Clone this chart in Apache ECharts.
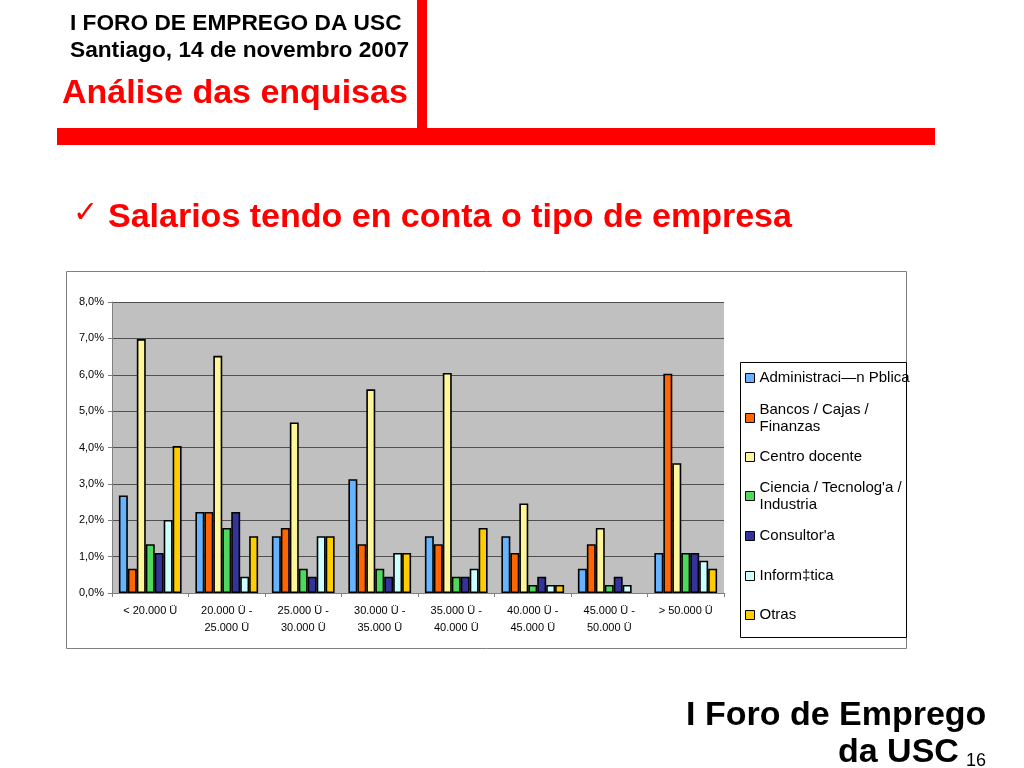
<!DOCTYPE html>
<html>
<head>
<meta charset="utf-8">
<script src="https://cdn.jsdelivr.net/npm/echarts@6/dist/echarts.min.js"></script>
<style>
html,body{margin:0;padding:0;background:#fff;}
#chart{width:1024px;height:768px;}
</style>
</head>
<body>
<div id="chart"></div>
<script>
// ---- data ----
var categories = ['< 20.000 Ü', '20.000 Ü -\n25.000 Ü', '25.000 Ü -\n30.000 Ü', '30.000 Ü -\n35.000 Ü',
  '35.000 Ü -\n40.000 Ü', '40.000 Ü -\n45.000 Ü', '45.000 Ü -\n50.000 Ü', '> 50.000 Ü'];
var seriesNames = ['Administraci—n Pblica', 'Bancos / Cajas / Finanzas', 'Centro docente',
  'Ciencia / Tecnolog\'a / Industria', 'Consultor\'a', 'Inform‡tica', 'Otras'];
var legendLabels = ['Administraci—n Pblica', 'Bancos / Cajas /\nFinanzas', 'Centro docente',
  'Ciencia / Tecnolog\'a /\nIndustria', 'Consultor\'a', 'Inform‡tica', 'Otras'];
var administracion = [2.68, 2.23, 1.56, 3.13, 1.56, 1.56, 0.67, 1.10];
var bancos         = [0.67, 2.23, 1.79, 1.34, 1.34, 1.10, 1.34, 6.03];
var centroDocente  = [6.98, 6.52, 4.69, 5.60, 6.05, 2.46, 1.79, 3.57];
var ciencia        = [1.34, 1.79, 0.67, 0.67, 0.45, 0.22, 0.22, 1.10];
var consultoria    = [1.10, 2.23, 0.45, 0.45, 0.45, 0.45, 0.45, 1.10];
var informatica    = [2.01, 0.45, 1.56, 1.10, 0.67, 0.22, 0.22, 0.89];
var otras          = [4.04, 1.56, 1.56, 1.10, 1.79, 0.22, 0,    0.67];
var yTicks = [0, 1, 2, 3, 4, 5, 6, 7, 8];

var seriesValues = [administracion, bancos, centroDocente, ciencia, consultoria, informatica, otras];
var seriesColors = ['#66B3FF', '#FF6600', '#FFF599', '#4CD95C', '#333399', '#CCFFFF', '#FFCC00'];

// legend marker centres (px)
var legendY = [373, 413, 452, 491, 531, 571, 610];

var FONT = '"Liberation Sans", Arial, sans-serif';

var series = seriesNames.map(function (n, i) {
  return {
    name: n, type: 'bar',
    // a zero value is drawn as no bar at all
    data: seriesValues[i].map(function (v) { return v === 0 ? null : v; }),
    barGap: '0%', barCategoryGap: '18%',
    itemStyle: { color: seriesColors[i], borderColor: '#000', borderWidth: 1.6 },
    emphasis: { disabled: true }
  };
});

var legends = seriesNames.map(function (n, i) {
  var two = legendLabels[i].indexOf('\n') >= 0;
  return {
    left: 740,
    top: two ? legendY[i] - 25.5 : legendY[i] - 8.5,
    orient: 'vertical',
    selectedMode: false,
    icon: 'rect',
    itemWidth: 9, itemHeight: 9,
    itemStyle: { borderColor: '#000', borderWidth: 1 },
    data: [n],
    formatter: function () { return legendLabels[i]; },
    textStyle: {
      fontFamily: FONT, fontSize: 15, color: '#000', lineHeight: 17,
      padding: two ? [17, 0, 0, 0] : 0
    }
  };
});

var chart = echarts.init(document.getElementById('chart'), null, { renderer: 'canvas' });
chart.setOption({
  backgroundColor: '#fff',
  animation: false,
  legend: legends,
  grid: {
    left: 112, top: 302, width: 612, height: 291,
    show: true, backgroundColor: '#C0C0C0', borderWidth: 0
  },
  xAxis: {
    type: 'category', data: categories,
    axisLine: { lineStyle: { color: '#808080', width: 1 } },
    axisTick: { show: true, length: 4, lineStyle: { color: '#808080' } },
    axisLabel: { interval: 0, fontFamily: FONT, fontSize: 11, color: '#000', lineHeight: 17, margin: 9 }
  },
  yAxis: {
    type: 'value', min: 0, max: 8, interval: 1,
    axisLine: { show: true, lineStyle: { color: '#808080' } },
    axisTick: { show: true, length: 4, lineStyle: { color: '#808080' } },
    splitLine: { show: true, lineStyle: { color: '#505050', width: 1 } },
    axisLabel: {
      fontFamily: FONT, fontSize: 11, color: '#000', margin: 8,
      formatter: function (v) { return v.toFixed(1).replace('.', ',') + '%'; }
    }
  },
  series: series,
  graphic: [
    { type: 'rect', shape: { x: 66.5, y: 271.5, width: 840, height: 377 }, style: { fill: null, stroke: '#808080', lineWidth: 1 }, z: -1 },
    { type: 'rect', shape: { x: 740.5, y: 362.5, width: 166, height: 275 }, style: { fill: null, stroke: '#000', lineWidth: 1 } },
    { type: 'rect', shape: { x: 417, y: 0, width: 10, height: 130 }, style: { fill: '#FF0000' } },
    { type: 'rect', shape: { x: 57, y: 128, width: 878, height: 17 }, style: { fill: '#FF0000' } },
    { type: 'text', left: 70, top: 12, style: { text: 'I FORO DE EMPREGO DA USC', font: 'bold 22.7px ' + FONT, fill: '#000' } },
    { type: 'text', left: 70, top: 39, style: { text: 'Santiago, 14 de novembro 2007', font: 'bold 22.7px ' + FONT, fill: '#000' } },
    { type: 'text', left: 62, top: 77, style: { text: 'Análise das enquisas', font: 'bold 34px ' + FONT, fill: '#FF0000' } },
    { type: 'text', left: 73, top: 199, style: { text: '✓', font: 'bold 30px "DejaVu Sans"', fill: '#FF0000' } },
    { type: 'text', left: 108, top: 201, style: { text: 'Salarios tendo en conta o tipo de empresa', font: 'bold 34px ' + FONT, fill: '#FF0000' } },
    { type: 'text', left: 686, top: 699, style: { text: 'I Foro de Emprego', font: 'bold 34px ' + FONT, fill: '#000' } },
    { type: 'text', left: 838, top: 736, style: { text: 'da USC', font: 'bold 34px ' + FONT, fill: '#000' } },
    { type: 'text', left: 966, top: 752, style: { text: '16', font: '18px ' + FONT, fill: '#000' } }
  ]
});
</script>
</body>
</html>
